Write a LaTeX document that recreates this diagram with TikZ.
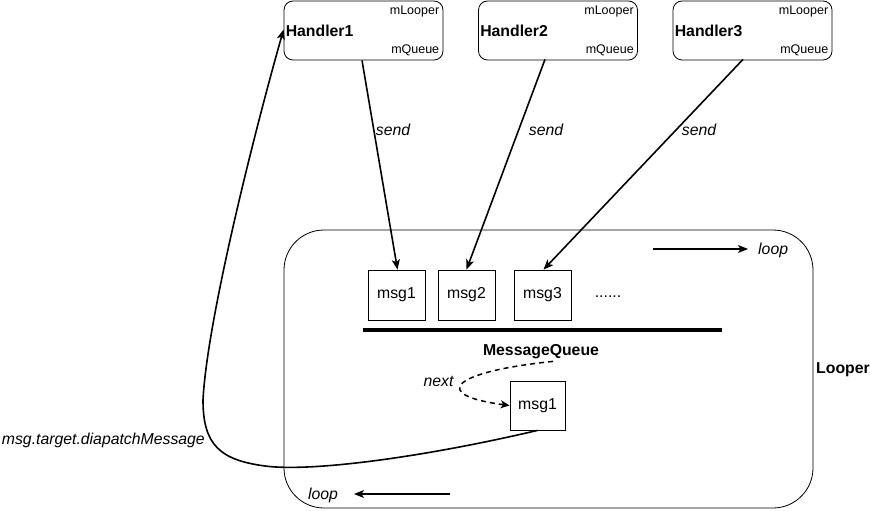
\documentclass[tikz,border=0pt]{standalone}
\usepackage{fontspec}
\setmainfont{Liberation Sans}
\usetikzlibrary{arrows.meta,calc}
\begin{document}
\begin{tikzpicture}[x=1pt,y=-1pt,
  fs/.style={font=\fontsize{15.8}{18}\selectfont},
  hbox/.style={draw,rounded corners=9pt,minimum width=159pt,minimum height=59pt,inner sep=0pt,line width=0.8pt},
  mbox/.style={draw,minimum width=57pt,minimum height=50pt,inner sep=0pt,font=\fontsize{15.8}{18}\selectfont,line width=0.8pt},
  htxt/.style={font=\bfseries\fontsize{15.8}{18}\selectfont,anchor=west,inner sep=0pt},
  small/.style={font=\fontsize{12.5}{14}\selectfont,anchor=east,inner sep=0pt},
  lbl/.style={font=\itshape\fontsize{15.8}{18}\selectfont,inner sep=0pt},
  arr/.style={line width=1.6pt,-{Stealth[length=10pt,width=8pt,inset=2.5pt]}},
  larr/.style={line width=1.3pt,-{Stealth[length=10pt,width=8pt,inset=2.5pt]}}
]
\useasboundingbox (0,0) rectangle (870,511);
% Looper box
\node[draw,rounded corners=40pt,minimum width=529pt,minimum height=278pt,inner sep=0pt,line width=0.8pt] (looper) at (548.5,369) {};
\node[font=\bfseries\fontsize{15.8}{18}\selectfont,anchor=west,inner sep=0pt] (looperlbl) at (816,370) {Looper};
% Handlers
\foreach \i/\x in {1/363.5,2/558,3/752.5}{
  \node[hbox] (h\i) at (\x,30.5) {};
  \node[htxt] (ht\i) at ($(h\i.west)+(2,0)$) {Handler\i};
  \node[small] (hl\i) at ($(h\i.north east)+(-4,10.5)$) {mLooper};
  \node[small] (hq\i) at ($(h\i.south east)+(-4,-10)$) {mQueue};
}
% messages
\node[mbox] (m1) at (396.5,295) {msg1};
\node[mbox] (m2) at (466.5,295) {msg2};
\node[mbox] (m3) at (542.5,295) {msg3};
\node[fs,inner sep=0pt] (dots) at (608,297) {......};
% queue bar
\coordinate (qa) at (363,330);
\coordinate (qb) at (722,330);
\draw[line width=4.5pt] (qa) -- (qb);
\node[font=\bfseries\fontsize{15.8}{18}\selectfont,inner sep=0pt] (mq) at (541,352) {MessageQueue};
\node[mbox,minimum width=55pt,minimum height=49pt] (m1b) at (537.5,405.5) {msg1};
% send arrows
\draw[arr] ($(h1.south)+(-1.5,0)$) -- ($(m1.north)+(1,0)$);
\draw[arr] ($(h2.south)+(-13,-1)$) -- (m2.north);
\draw[arr] ($(h3.south)+(-9.5,-1)$) -- ($(m3.north)+(1,0)$);
\node[lbl] (s1) at (393,130) {send};
\node[lbl] (s2) at (546,130) {send};
\node[lbl] (s3) at (699,130) {send};
% next dashed
\coordinate (ns) at ($(mq.south)+(12,2)$);
\draw[line width=1.5pt,dash pattern=on 5pt off 4pt,-{Stealth[length=9pt,width=8pt,inset=2.5pt]}] (ns) .. controls (450,372) and (430,395) .. (m1b.west);
\node[lbl] (nx) at (438.5,381) {next};
% dispatch
\coordinate (dc) at (203,400);
\draw[arr] (m1b.south) .. controls (420,458) and (310,472) .. (265,466) .. controls (220,460) and (203,445) .. (dc) .. controls (207,320) and (255,130) .. ($(h1.west)+(0,-1)$);
\node[lbl,anchor=east] (dl) at (205,440) {msg.target.diapatchMessage};
% loop arrows
\coordinate (la1) at (653,249);
\coordinate (la2) at (748,249);
\draw[larr] (la1) -- (la2);
\node[lbl,anchor=west] (lt1) at (758,250) {loop};
\coordinate (lb1) at (450,494);
\coordinate (lb2) at (354,494);
\draw[larr] (lb1) -- (lb2);
\node[lbl] (lt2) at (323,495) {loop};
\end{tikzpicture}
\end{document}
